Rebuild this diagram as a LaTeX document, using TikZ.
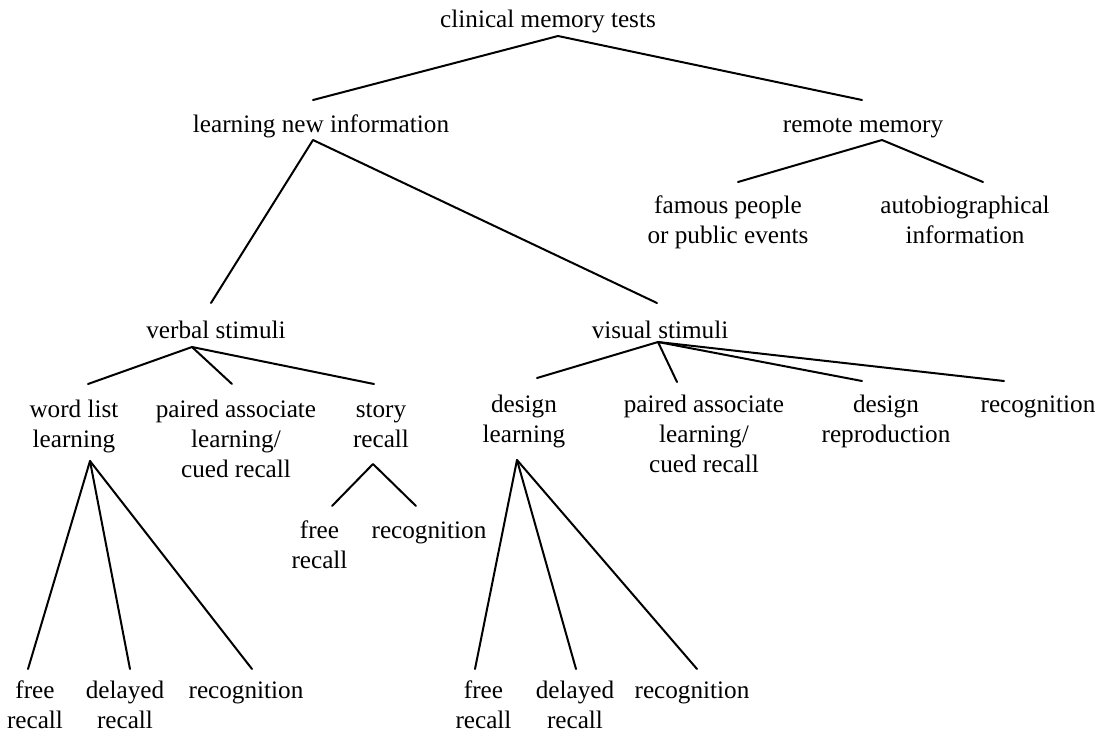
\documentclass[tikz,border=0pt]{standalone}
\usepackage{fontspec}
\setmainfont{Liberation Serif}
\newcommand\mlines[1]{\begin{tabular}[t]{@{}c@{}}#1\end{tabular}}
\tikzset{
  lbl/.style={anchor=base, inner sep=0pt, font=\fontsize{25.2}{30}\selectfont},
  edge/.style={line width=2pt, line cap=round, line join=round}
}
\begin{document}
\begin{tikzpicture}[x=1pt,y=-1pt]
\useasboundingbox[fill=white] (0,0) rectangle (1108,732);
% nodes
\node[lbl] (root) at (548,27) {clinical memory tests};
\node[lbl] (learn) at (321,132) {learning new information};
\node[lbl] (remote) at (863,132) {remote memory};
\node[lbl] (famous) at (728,213) {\mlines{famous people\\or public events}};
\node[lbl] (autobio) at (965,213) {\mlines{autobiographical\\information}};
\node[lbl] (verbal) at (216,338) {verbal stimuli};
\node[lbl] (visual) at (660,338) {visual stimuli};
\node[lbl] (word) at (74,417) {\mlines{word list\\learning}};
\node[lbl] (vpaired) at (236,417) {\mlines{paired associate\\learning/\\cued recall}};
\node[lbl] (story) at (381,417) {\mlines{story\\recall}};
\node[lbl] (design) at (524,412) {\mlines{design\\learning}};
\node[lbl] (spaired) at (704,412) {\mlines{paired associate\\learning/\\cued recall}};
\node[lbl] (repro) at (886,412) {\mlines{design\\reproduction}};
\node[lbl] (srecog) at (1038,412) {recognition};
\node[lbl] (sfree) at (319.5,538) {\mlines{free\\recall}};
\node[lbl] (srec) at (429,538) {recognition};
\node[lbl] (wfree) at (35,698) {\mlines{free\\recall}};
\node[lbl] (wdel) at (125,698) {\mlines{delayed\\recall}};
\node[lbl] (wrec) at (246,698) {recognition};
\node[lbl] (dfree) at (483.5,698) {\mlines{free\\recall}};
\node[lbl] (ddel) at (575,698) {\mlines{delayed\\recall}};
\node[lbl] (drec) at (692,698) {recognition};
% connector end points
\coordinate (rootB) at (558,36);
\coordinate (learnT) at (313,100);
\coordinate (remoteT) at (862,100);
\coordinate (learnB) at (313,140);
\coordinate (remoteB) at (882,140);
\coordinate (famousT) at (738,182);
\coordinate (autobioT) at (983,182);
\coordinate (verbalT) at (211,303);
\coordinate (visualT) at (657,303);
\coordinate (verbalB) at (192,347);
\coordinate (visualB) at (658,342);
\coordinate (wordT) at (88,384);
\coordinate (vpairedT) at (232,384);
\coordinate (storyT) at (374,384);
\coordinate (designT) at (537,378);
\coordinate (spairedT) at (677,382);
\coordinate (reproT) at (862,381);
\coordinate (srecogT) at (1004,381);
\coordinate (wordB) at (90,461);
\coordinate (storyB) at (373,464);
\coordinate (designB) at (517,460);
\coordinate (sfreeT) at (332,506);
\coordinate (srecT) at (416,506);
\coordinate (wfreeT) at (28,669);
\coordinate (wdelT) at (130,669);
\coordinate (wrecT) at (252,669);
\coordinate (dfreeT) at (475,669);
\coordinate (ddelT) at (576,669);
\coordinate (drecT) at (697,669);
% connectors
\draw[edge] (learnT) -- (rootB) -- (remoteT);
\draw[edge] (verbalT) -- (learnB) -- (visualT);
\draw[edge] (famousT) -- (remoteB) -- (autobioT);
\draw[edge] (wordT) -- (verbalB) -- (storyT);
\draw[edge] (verbalB) -- (vpairedT);
\draw[edge] (designT) -- (visualB) -- (srecogT);
\draw[edge] (visualB) -- (spairedT);
\draw[edge] (visualB) -- (reproT);
\draw[edge] (sfreeT) -- (storyB) -- (srecT);
\draw[edge] (wfreeT) -- (wordB) -- (wrecT);
\draw[edge] (wordB) -- (wdelT);
\draw[edge] (dfreeT) -- (designB) -- (drecT);
\draw[edge] (designB) -- (ddelT);
\end{tikzpicture}
\end{document}
